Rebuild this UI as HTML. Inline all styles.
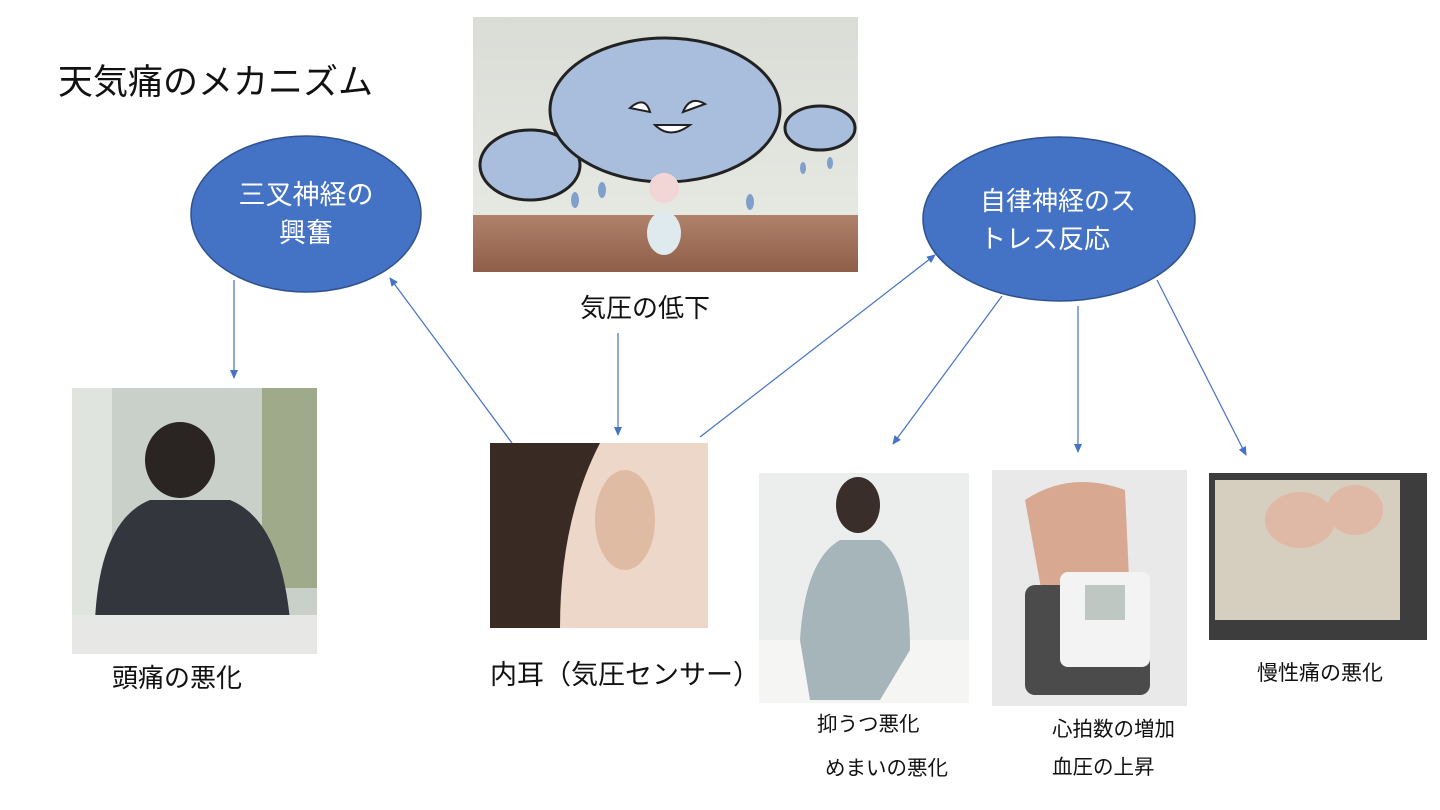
<!DOCTYPE html>
<html><head><meta charset="utf-8"><style>
body{margin:0;width:1440px;height:810px;background:#fff;position:relative;overflow:hidden;font-family:"Liberation Sans","Noto Sans CJK JP",sans-serif;color:#111}
.t{position:absolute;white-space:nowrap}
.p{position:absolute}
</style></head><body>
<svg class="p" style="left:0;top:0" width="1440" height="810">
<defs>
<marker id="a" markerWidth="10" markerHeight="10" refX="8" refY="5" orient="auto" markerUnits="userSpaceOnUse"><path d="M0,1 L9,5 L0,9 z" fill="#4472C4"/></marker>
<linearGradient id="sky" x1="0" y1="0" x2="0" y2="1"><stop offset="0" stop-color="#d9ddd6"/><stop offset="1" stop-color="#e6e8e2"/></linearGradient>
<linearGradient id="wood" x1="0" y1="0" x2="0" y2="1"><stop offset="0" stop-color="#b0826a"/><stop offset="1" stop-color="#8f5e49"/></linearGradient>
</defs>
<rect x="473" y="17" width="385" height="200" fill="url(#sky)"/>
<rect x="473" y="215" width="385" height="57" fill="url(#wood)"/>
<g fill="#a9bedc" stroke="#222" stroke-width="3">
<ellipse cx="530" cy="165" rx="50" ry="35"/>
<ellipse cx="820" cy="128" rx="35" ry="22"/>
<ellipse cx="665" cy="110" rx="115" ry="72"/>
</g>
<g fill="#7fa0cc"><ellipse cx="575" cy="200" rx="4" ry="8"/><ellipse cx="602" cy="190" rx="4" ry="8"/><ellipse cx="750" cy="202" rx="4" ry="8"/><ellipse cx="803" cy="168" rx="3" ry="6"/><ellipse cx="830" cy="163" rx="3" ry="6"/></g>
<path d="M630,108 Q645,95 650,112 Z M705,104 Q690,95 683,112 Z" fill="#fff" stroke="#222" stroke-width="2"/>
<path d="M655,125 Q670,140 690,125 Z" fill="#fff" stroke="#222" stroke-width="2"/>
<ellipse cx="664" cy="233" rx="17" ry="22" fill="#dfeaee"/>
<circle cx="664" cy="188" r="15" fill="#f2d6d6"/>
<ellipse cx="306" cy="214" rx="115" ry="78" fill="#4472C4" stroke="#2f528f" stroke-width="1.5"/>
<ellipse cx="1059" cy="219" rx="136" ry="82" fill="#4472C4" stroke="#2f528f" stroke-width="1.5"/>
<rect x="72" y="388" width="245" height="266" fill="#c9cfc9"/>
<rect x="72" y="388" width="40" height="230" fill="#dfe4de"/>
<rect x="262" y="388" width="55" height="200" fill="#9eaa8a"/>
<path d="M95,620 Q100,520 150,500 L230,500 Q280,520 290,620 Z" fill="#33373d"/>
<ellipse cx="180" cy="460" rx="35" ry="38" fill="#2a2522"/>
<rect x="72" y="615" width="245" height="39" fill="#e7e8e6"/>
<rect x="490" y="443" width="218" height="185" fill="#ecd7c8"/>
<path d="M490,443 L600,443 Q560,520 560,628 L490,628 Z" fill="#3a2a24"/>
<ellipse cx="625" cy="520" rx="30" ry="50" fill="#e0bba4"/>
<rect x="759" y="473" width="210" height="230" fill="#eceeed"/>
<rect x="759" y="640" width="210" height="63" fill="#f5f5f3"/>
<path d="M800,640 Q805,560 840,540 L880,540 Q910,560 910,650 L880,700 L810,700 Z" fill="#a5b5b9"/>
<ellipse cx="858" cy="505" rx="22" ry="28" fill="#3a2e2a"/>
<rect x="992" y="470" width="195" height="236" fill="#e9e9e9"/>
<path d="M1025,500 Q1070,470 1125,490 L1130,600 L1045,610 Z" fill="#d8a890"/>
<rect x="1025" y="585" width="125" height="110" rx="10" fill="#4b4b4b"/>
<rect x="1060" y="572" width="90" height="95" rx="8" fill="#f3f3f3"/>
<rect x="1085" y="585" width="40" height="35" fill="#bfc7c2"/>
<rect x="1209" y="473" width="218" height="167" fill="#3d3d3d"/>
<path d="M1215,480 L1400,480 L1400,620 L1215,620 Z" fill="#d6cfc0"/>
<ellipse cx="1300" cy="520" rx="35" ry="28" fill="#e0b9a6"/>
<ellipse cx="1355" cy="510" rx="28" ry="25" fill="#e0b9a6"/>
<g stroke="#4472C4" stroke-width="1.2" fill="none" marker-end="url(#a)">
<line x1="234" y1="280" x2="234" y2="378"/>
<line x1="618" y1="333" x2="618" y2="435"/>
<line x1="512" y1="443" x2="390" y2="278"/>
<line x1="700" y1="437" x2="935" y2="255"/>
<line x1="1002" y1="296" x2="893" y2="444"/>
<line x1="1078" y1="306" x2="1078" y2="452"/>
<line x1="1157" y1="280" x2="1246" y2="455"/>
</g>
</svg>
<div class="t" style="left:58px;top:54px;font-size:35px">天気痛のメカニズム</div>
<div class="t" style="left:580px;top:288px;font-size:26px">気圧の低下</div>
<div class="t" style="left:191px;top:176px;width:230px;text-align:center;color:#fff;font-size:27px;line-height:38px">三叉神経の<br>興奮</div>
<div class="t" style="left:980px;top:182px;width:170px;color:#fff;font-size:26px;line-height:38px">自律神経のス<br>トレス反応</div>
<div class="t" style="left:112px;top:658px;font-size:26px">頭痛の悪化</div>
<div class="t" style="left:490px;top:653px;font-size:27px">内耳（気圧センサー）</div>
<div class="t" style="left:817px;top:707px;font-size:20.5px">抑うつ悪化</div>
<div class="t" style="left:825px;top:751px;font-size:20.5px">めまいの悪化</div>
<div class="t" style="left:1052px;top:712px;font-size:20.5px">心拍数の増加</div>
<div class="t" style="left:1052px;top:750px;font-size:20.5px">血圧の上昇</div>
<div class="t" style="left:1257px;top:657px;font-size:21px">慢性痛の悪化</div>
</body></html>
